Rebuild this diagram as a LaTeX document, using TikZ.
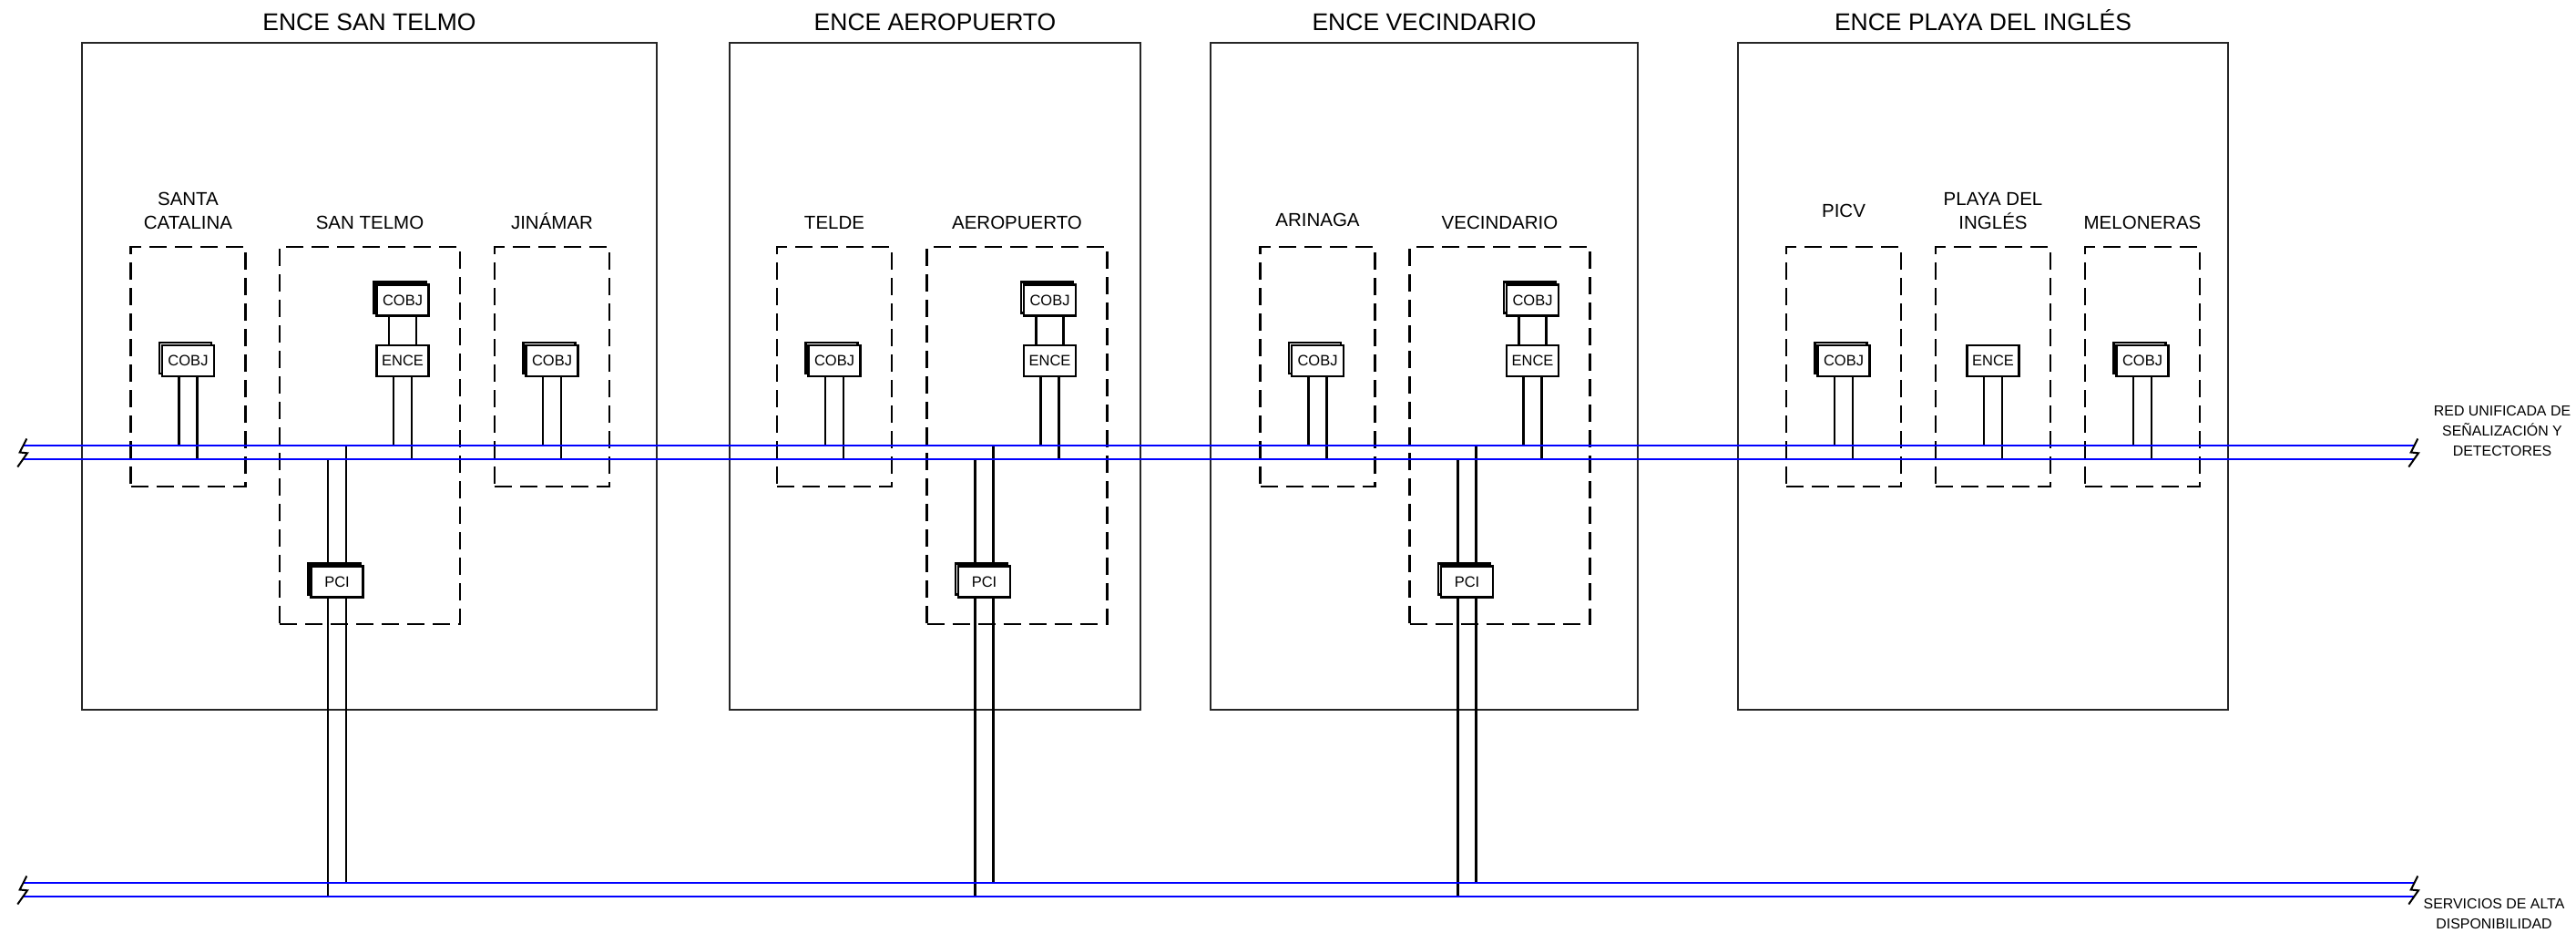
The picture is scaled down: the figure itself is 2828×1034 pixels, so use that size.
\documentclass[tikz,border=0pt]{standalone}
\usepackage{fontspec}
\setmainfont{Liberation Sans}
\usetikzlibrary{positioning,calc,shadows}

\begin{document}
\begin{tikzpicture}[x=1pt,y=-1pt,line join=miter,
  encebox/.style={draw=black!85,line width=2.6pt,inner sep=0pt,minimum height=732pt},
  sitebox/.style={draw,dash pattern=on 19pt off 9pt,line width=2.2pt,inner sep=0pt},
  smallsite/.style={sitebox,minimum width=126pt,minimum height=263pt},
  bigsite/.style={sitebox,minimum width=198pt,minimum height=414pt},
  encetitle/.style={font=\fontsize{26.5}{30}\selectfont,inner sep=0pt},
  sitelabel/.style={font=\fontsize{20.5}{26}\selectfont,align=center,inner sep=0pt},
  device/.style={draw,fill=white,line width=2.2pt,minimum width=57pt,minimum height=34pt,
    inner sep=0pt,font=\fontsize{16.5}{18}\selectfont},
  stacked/.style={device,copy shadow={shadow xshift=-3pt,shadow yshift=3pt}},
  wire/.style={line width=2.2pt},
  bus/.style={blue,line width=2.4pt},
  bolt/.style={line width=2pt},
  netlabel/.style={font=\fontsize{15.9}{22}\selectfont,align=center,inner sep=0pt}]
  \useasboundingbox (0,0) rectangle (2828,1034);

  % --- ENCE enclosures ---
  \node[encebox,minimum width=631pt] (stEnce) at (405.5,413) {};
  \node[encebox,minimum width=451pt] (aeEnce) at (1026.5,413) {};
  \node[encebox,minimum width=469pt] (veEnce) at (1563.5,413) {};
  \node[encebox,minimum width=538pt] (plEnce) at (2177,413) {};
  \node[encetitle,above=12pt of stEnce] (stTitle) {ENCE SAN TELMO};
  \node[encetitle,above=12pt of aeEnce] (aeTitle) {ENCE AEROPUERTO};
  \node[encetitle,above=12pt of veEnce] (veTitle) {ENCE VECINDARIO};
  \node[encetitle,above=12pt of plEnce] (plTitle) {ENCE PLAYA DEL INGLÉS};

  % --- stations (dashed) ---
  \node[smallsite] (scSite) at (206.5,402.5) {};
  \node[bigsite]   (stSite) at (406,478) {};
  \node[smallsite] (jiSite) at (606,402.5) {};
  \node[smallsite] (teSite) at (916,402.5) {};
  \node[bigsite]   (aeSite) at (1116.5,478) {};
  \node[smallsite] (arSite) at (1446.5,402.5) {};
  \node[bigsite]   (veSite) at (1646.5,478) {};
  \node[smallsite] (piSite) at (2024,402.5) {};
  \node[smallsite] (plSite) at (2188,402.5) {};
  \node[smallsite] (meSite) at (2352,402.5) {};

  \node[sitelabel,above=18pt of scSite] (scLabel) {SANTA\\CATALINA};
  \node[sitelabel,above=18pt of stSite] (stLabel) {SAN TELMO};
  \node[sitelabel,above=18pt of jiSite] (jiLabel) {JINÁMAR};
  \node[sitelabel,above=18pt of teSite] (teLabel) {TELDE};
  \node[sitelabel,above=18pt of aeSite] (aeLabel) {AEROPUERTO};
  \node[sitelabel,above=21pt of arSite] (arLabel) {ARINAGA};
  \node[sitelabel,above=18pt of veSite] (veLabel) {VECINDARIO};
  \node[sitelabel,above=31pt of piSite] (piLabel) {PICV};
  \node[sitelabel,above=18pt of plSite] (plLabel) {PLAYA DEL\\INGLÉS};
  \node[sitelabel,above=18pt of meSite] (meLabel) {MELONERAS};

  % --- equipment ---
  \node[stacked] (scCOBJ) at (206.5,396) {COBJ};
  \node[stacked] (stCOBJ) at (442,329.5) {COBJ};
  \node[device]  (stENCE) at (442,396) {ENCE};
  \node[stacked] (stPCI)  at (370,638.5) {PCI};
  \node[stacked] (jiCOBJ) at (606,396) {COBJ};
  \node[stacked] (teCOBJ) at (916,396) {COBJ};
  \node[stacked] (aeCOBJ) at (1152.5,329.5) {COBJ};
  \node[device]  (aeENCE) at (1152.5,396) {ENCE};
  \node[stacked] (aePCI)  at (1080.5,638.5) {PCI};
  \node[stacked] (arCOBJ) at (1446.5,396) {COBJ};
  \node[stacked] (veCOBJ) at (1682.5,329.5) {COBJ};
  \node[device]  (veENCE) at (1682.5,396) {ENCE};
  \node[stacked] (vePCI)  at (1610.5,638.5) {PCI};
  \node[stacked] (piCOBJ) at (2024,396) {COBJ};
  \node[device]  (plENCE) at (2188,396) {ENCE};
  \node[stacked] (meCOBJ) at (2352,396) {COBJ};

  % --- the two networks ---
  \coordinate (redW)  at (25,489);  \coordinate (redE)  at (2650,489);
  \coordinate (redW2) at (25,504);  \coordinate (redE2) at (2650,504);
  \coordinate (altW)  at (25,969);  \coordinate (altE)  at (2650,969);
  \coordinate (altW2) at (25,984);  \coordinate (altE2) at (2650,984);

  % --- drops to the signalling network ---
  \foreach \dev in {scCOBJ,stENCE,jiCOBJ,teCOBJ,aeENCE,arCOBJ,veENCE,piCOBJ,plENCE,meCOBJ} {
    \draw[wire] ([xshift=-10pt]\dev.south) -- ([xshift=-10pt]\dev.south |- redW);
    \draw[wire] ([xshift=10pt]\dev.south) -- ([xshift=10pt]\dev.south |- redW2);
  }
  % --- COBJ over ENCE, PCI between both networks ---
  \foreach \st in {st,ae,ve} {
    \draw[wire] ([xshift=-15pt]\st COBJ.south) -- ([xshift=-15pt]\st ENCE.north);
    \draw[wire] ([xshift=15pt]\st COBJ.south) -- ([xshift=15pt]\st ENCE.north);
    \draw[wire] ([xshift=-10pt]\st PCI.north |- redW2) -- ([xshift=-10pt]\st PCI.north);
    \draw[wire] ([xshift=10pt]\st PCI.north |- redW) -- ([xshift=10pt]\st PCI.north);
    \draw[wire] ([xshift=-10pt]\st PCI.south) -- ([xshift=-10pt]\st PCI.south |- altW2);
    \draw[wire] ([xshift=10pt]\st PCI.south) -- ([xshift=10pt]\st PCI.south |- altW);
  }

  \draw[bus] (redW) -- (redE);
  \draw[bus] (redW2) -- (redE2);
  \draw[bus] (altW) -- (altE);
  \draw[bus] (altW2) -- (altE2);

  % --- line breaks at the ends ---
  \foreach \bx/\by in {25/496.5,2650/496.5,25/976.5,2650/976.5}
    \draw[bolt] (\bx+4.3,\by-15) -- (\bx-3.3,\by) -- (\bx+5,\by+0.8) -- (\bx-5.7,\by+16);

  \node[netlabel] (redLabel) at (2747,473) {RED UNIFICADA DE\\SEÑALIZACIÓN Y\\DETECTORES};
  \node[netlabel] (altLabel) at (2738,1003.5) {SERVICIOS DE ALTA\\DISPONIBILIDAD};
\end{tikzpicture}
\end{document}
